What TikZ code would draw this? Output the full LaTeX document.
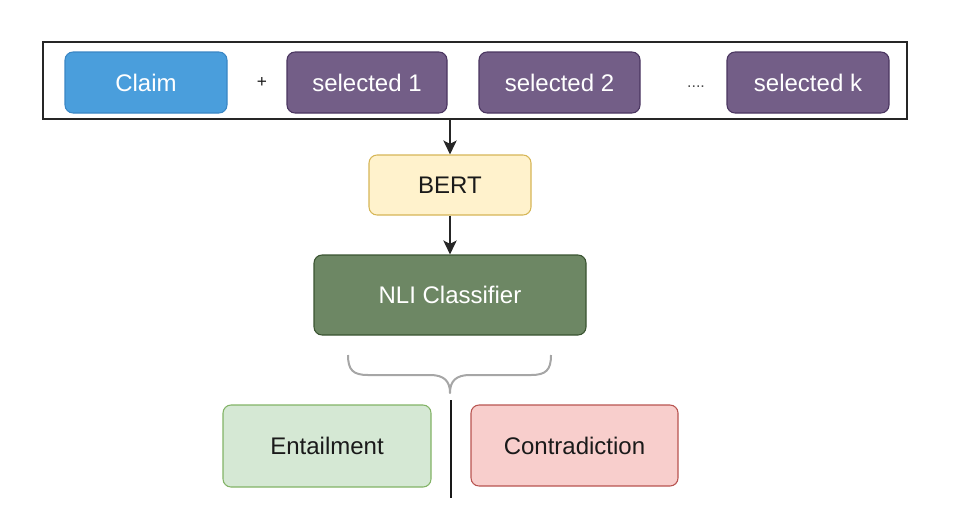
\documentclass[tikz,border=0pt]{standalone}
\usepackage{fontspec}
\setmainfont{Liberation Sans}
\usetikzlibrary{arrows.meta}
\definecolor{claimfill}{HTML}{4A9EDC}
\definecolor{claimdraw}{HTML}{3A86C4}
\definecolor{selfill}{HTML}{735E87}
\definecolor{seldraw}{HTML}{4A3560}
\definecolor{bertfill}{HTML}{FFF2CC}
\definecolor{bertdraw}{HTML}{D6B656}
\definecolor{nlifill}{HTML}{6D8764}
\definecolor{nlidraw}{HTML}{3A5431}
\definecolor{entfill}{HTML}{D5E8D4}
\definecolor{entdraw}{HTML}{82B366}
\definecolor{confill}{HTML}{F8CECC}
\definecolor{condraw}{HTML}{B85450}
\definecolor{txt}{HTML}{1A1A1A}
\definecolor{bracegray}{HTML}{A6A6A6}
\tikzset{
  box/.style={rectangle, rounded corners=6pt, line width=0.8pt, inner sep=0pt,
    font=\fontsize{18}{22}\selectfont, text=txt},
  whitebox/.style={box, text=white},
  conn/.style={line width=1.1pt, draw=black!85, -{Stealth[length=10.5pt,width=10pt,inset=2.5pt]}},
  lbl/.style={font=\fontsize{18}{22}\selectfont, text=txt, inner sep=0pt}
}
\begin{document}
\begin{tikzpicture}[x=0.75pt,y=-0.75pt]
\useasboundingbox (0,0) rectangle (970,514);
\node[draw=black!85, line width=1.2pt, minimum width=648pt, minimum height=57.75pt, inner sep=0pt] (outer) at (475,80.5) {};
\node[whitebox, fill=claimfill, draw=claimdraw, minimum width=121.5pt, minimum height=45.75pt] (claim) at (146,82.5) {Claim};
\node[lbl, font=\fontsize{13}{15}\selectfont] (plus) at (262,82) {+};
\node[whitebox, fill=selfill, draw=seldraw, minimum width=120pt, minimum height=45.75pt] (sel1) at (367,82.5) {selected 1};
\node[whitebox, fill=selfill, draw=seldraw, minimum width=120.75pt, minimum height=45.75pt] (sel2) at (559.5,82.5) {selected 2};
\node[lbl, text=black!70, font=\fontsize{12}{14}\selectfont] (dots) at (696,87) {....};
\node[whitebox, fill=selfill, draw=seldraw, minimum width=121.5pt, minimum height=45.75pt] (selk) at (808,82.5) {selected k};
\node[box, fill=bertfill, draw=bertdraw, minimum width=121.5pt, minimum height=45pt] (bert) at (450,185) {BERT};
\node[whitebox, fill=nlifill, draw=nlidraw, minimum width=204pt, minimum height=60pt] (nli) at (450,295) {NLI Classifier};
\node[box, fill=entfill, draw=entdraw, minimum width=156pt, minimum height=61.5pt] (ent) at (327,446) {Entailment};
\node[box, fill=confill, draw=condraw, minimum width=155.25pt, minimum height=60.75pt] (con) at (574.5,445.5) {Contradiction};
\draw[conn] (outer.south -| bert.north) -- (bert.north);
\draw[conn] (bert.south) -- (nli.north);
\coordinate (bl) at (348,355);
\coordinate (br) at (551,355);
\coordinate (btip) at (450,393);
\draw[bracegray, line width=1.5pt, line join=round]
  (bl) .. controls (348,370) and (353,375) .. (368,375) -- (430,375)
  .. controls (444,375) and (450,381) .. (btip)
  .. controls (450,381) and (456,375) .. (470,375) -- (531,375)
  .. controls (546,375) and (551,370) .. (br);
\coordinate (vtop) at (451,400);
\coordinate (vbot) at (451,498);
\draw[line width=1.2pt, black!90] (vtop) -- (vbot);
\end{tikzpicture}
\end{document}
